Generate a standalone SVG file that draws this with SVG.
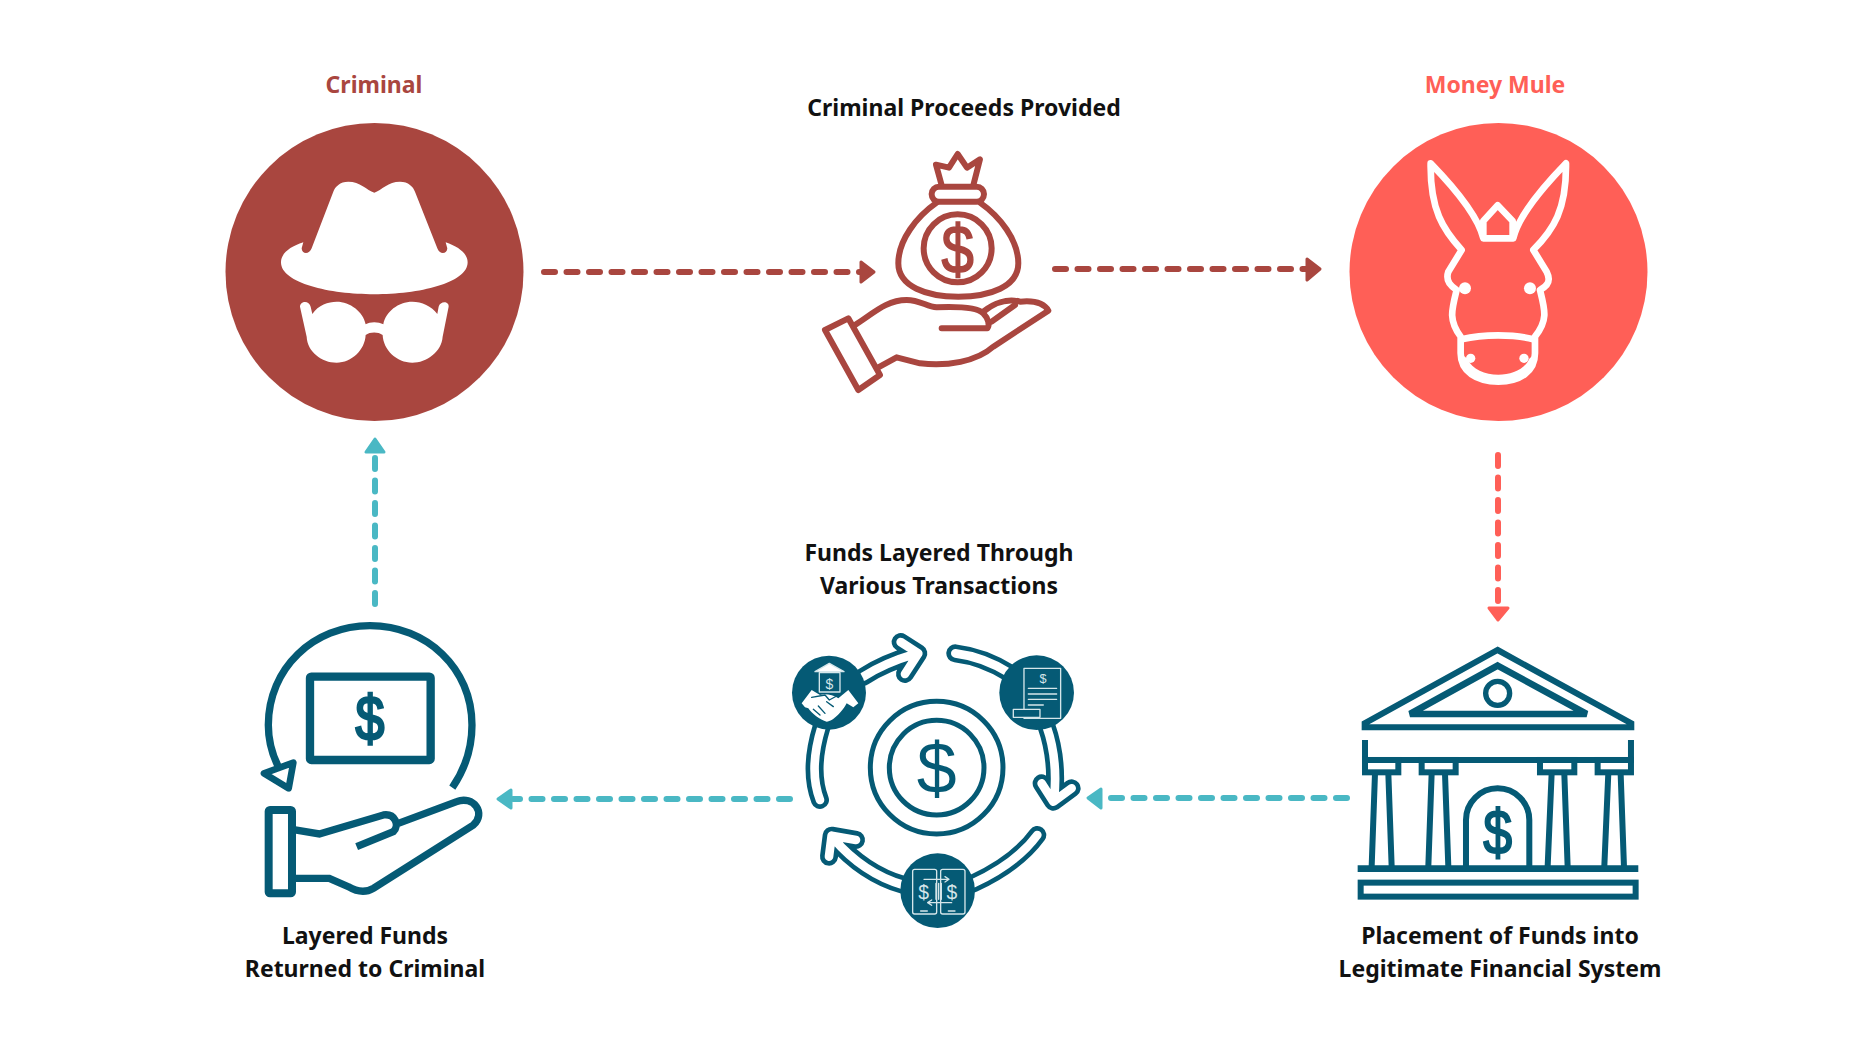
<svg xmlns="http://www.w3.org/2000/svg" width="1855" height="1043" viewBox="0 0 1855 1043">
<style>
.lab{font-family:"Noto Sans","Liberation Sans",sans-serif;font-weight:700;font-size:23px;text-anchor:middle;fill:#111}
.dash{fill:none;stroke-width:6;stroke-dasharray:11 11.500;stroke-linecap:round}
.head{stroke-width:3;stroke-linejoin:round}
.red{stroke:#a9463f;fill:none;stroke-linejoin:round;stroke-linecap:round}
.teal{stroke:#055a75;fill:none}
.d{font-family:"Liberation Sans",sans-serif;text-anchor:middle;stroke:none}
.wh{fill:none;stroke:#fff;stroke-width:20;stroke-linejoin:round;stroke-linecap:round}
.thin{fill:none;stroke:#d5e6ea;stroke-width:4;stroke-linejoin:round;stroke-linecap:round}
.bo{fill:none;stroke:#055a75;stroke-width:54;stroke-linecap:round;stroke-linejoin:round}
.bi{fill:none;stroke:#fff;stroke-width:26;stroke-linecap:round;stroke-linejoin:round}
</style>
<rect width="1855" height="1043" fill="#fff"/>
<g id="connectors">
<path class="dash" stroke="#a9463f" d="M544 272H860"/><path class="head" fill="#a9463f" stroke="#a9463f" d="M861 262L874 272L861 282Z"/>
<path class="dash" stroke="#a9463f" d="M1055 269H1307"/><path class="head" fill="#a9463f" stroke="#a9463f" d="M1307 259L1320 269L1307 280Z"/>
<path class="dash" stroke="#ff5f57" d="M1498 455V608"/><path class="head" fill="#ff5f57" stroke="#ff5f57" d="M1489 608H1508L1498 620Z"/>
<path class="dash" stroke="#4ab8c4" d="M1347 798H1103"/><path class="head" fill="#4ab8c4" stroke="#4ab8c4" d="M1101 789V808L1088 798Z"/>
<path class="dash" stroke="#4ab8c4" d="M790 799H513"/><path class="head" fill="#4ab8c4" stroke="#4ab8c4" d="M511 790V808L498 799Z"/>
<path class="dash" stroke="#4ab8c4" d="M375 604V454"/><path class="head" fill="#4ab8c4" stroke="#4ab8c4" d="M366 452H384L375 439Z"/>
</g>
<g id="criminal">
<text class="lab" x="374" y="93" style="fill:#a9463f">Criminal</text>
<circle cx="374.500" cy="272" r="149" fill="#a9463f"/>
<g transform="translate(200 60) scale(.3333)" fill="#fff">
<path d="M523 398C500 390 480 365 445 365C420 365 405 380 400 395L335 565C328 585 305 583 305 565L310 547C270 560 243 580 243 607C243 670 390 703 523 703C656 703 803 670 803 607C803 580 775 560 737 547L742 565C742 583 718 585 712 565L645 395C640 380 625 365 600 365C565 365 545 390 523 398Z"/>
<path d="M300 740C300 722 328 720 332 740L337 762C355 735 385 725 410 725C450 725 490 755 497 793C510 785 535 785 550 793C557 755 595 725 637 725C665 725 695 738 712 762L716 740C720 722 748 722 746 740L728 830C725 875 680 908 637 908C590 908 550 870 548 825C535 815 510 815 497 825C495 870 455 908 410 908C365 908 322 875 320 830Z"/>
</g>
</g>
<g id="proceeds">
<text class="lab" x="964" y="116">Criminal Proceeds Provided</text>
<g transform="translate(780 80) scale(.3333)">
<g class="red" stroke-width="18">
<path d="M484 312L468 254L507 263L533 222L561 263L600 238L581 312"/>
<rect x="455" y="320" width="157" height="45" rx="22"/>
<path d="M470 368C410 410 355 480 355 550C355 620 440 650 535 650C630 650 715 620 715 550C715 480 660 410 600 368"/>
<circle cx="533" cy="505" r="102"/>
<path d="M135 750L205 715L300 885L235 930Z"/>
<path d="M225 735C280 700 320 660 380 660C420 660 440 680 470 682C520 680 590 680 610 700C625 715 630 735 622 745H485"/>
<path d="M610 695C640 670 680 655 720 665C750 662 790 665 805 692L640 800C590 845 500 860 420 850L350 832L295 862"/>
<path d="M635 725L705 675"/>
</g>
<text class="d" transform="translate(533 580) scale(.85 1)" font-size="205" fill="#a9463f" style="stroke:#a9463f;stroke-width:5">$</text>
</g>
</g>
<g id="money-mule">
<text class="lab" x="1495" y="93" style="fill:#ff5f57">Money Mule</text>
<circle cx="1498.500" cy="272" r="149" fill="#ff5f57"/>
<g transform="translate(1320 60) scale(.3333)">
<path class="wh" d="M425 570C370 510 330 450 332 310C400 380 475 470 490 535H580C595 470 670 380 738 310C740 450 700 510 640 570L680 635C695 665 680 680 660 690C675 750 685 780 645 830V880C645 935 600 965 535 965C470 965 422 935 422 880V830C385 780 395 750 410 690C395 680 375 665 385 635Z"/>
<path class="wh" d="M490 528V483L533 436L578 483V528"/>
<path class="wh" d="M425 838C490 822 580 822 640 838"/>
<path fill="#fff" d="M422 880C422 935 470 970 535 970C600 970 645 935 645 880L628 896C600 960 470 960 442 896Z"/>
<circle cx="435" cy="685" r="18" fill="#fff"/><circle cx="630" cy="685" r="18" fill="#fff"/>
<circle cx="452" cy="895" r="14" fill="#fff"/><circle cx="612" cy="895" r="14" fill="#fff"/>
</g>
</g>
<g id="placement">
<text class="lab" x="1500" y="944">Placement of Funds into</text>
<text class="lab" x="1500" y="977">Legitimate Financial System</text>
<g transform="translate(1330 630) scale(.3333)">
<g class="teal" stroke-width="18">
<path d="M503 60L904 280V292H104V280Z"/>
<path d="M503 107L770 252H240Z" stroke-width="20"/>
<circle cx="503" cy="190" r="36" stroke-width="16"/>
<path d="M105 330V390H903V330"/>
<rect x="105" y="390" width="100" height="37"/><rect x="275" y="390" width="102" height="37"/><rect x="630" y="390" width="103" height="37"/><rect x="803" y="390" width="100" height="37"/>
<path d="M135 430L125 710M175 430L185 710M305 430L295 710M345 430L355 710M665 430L653 710M703 430L713 710M835 430L823 710M872 430L882 710"/>
<path d="M83 716H925" stroke-width="20"/>
<rect x="92" y="758" width="825" height="42"/>
<path d="M408 710V570A95 95 0 0 1 598 570V710"/>
</g>
<text class="d" transform="translate(503 671) scale(.82 1)" font-size="190" fill="#055a75" style="stroke:#055a75;stroke-width:6">$</text>
</g>
</g>
<g id="layered">
<text class="lab" x="939" y="561">Funds Layered Through</text>
<text class="lab" x="939" y="594">Various Transactions</text>
<g transform="translate(770 620) scale(.3333)">
<circle class="teal" cx="500" cy="443" r="199" stroke-width="15"/>
<circle class="teal" cx="500" cy="443" r="142" stroke-width="15"/>
<text class="d" x="500" y="518" font-size="215" fill="#055a75">$</text>
<defs>
<path id="a1" d="M280 170Q340 130 440 100M392 66L445 100L405 162"/>
<path id="a2" d="M556 100Q640 110 720 160"/>
<path id="a3" d="M830 320Q865 420 852 540M815 490L850 545L905 505"/>
<path id="a4" d="M802 645Q740 730 610 790"/>
<path id="a5" d="M400 795Q280 760 190 655M177 710L185 647L258 660"/>
<path id="a6" d="M150 540Q115 450 155 320"/>
</defs>
<use href="#a1" class="bo"/><use href="#a2" class="bo"/><use href="#a3" class="bo"/><use href="#a4" class="bo"/><use href="#a5" class="bo"/><use href="#a6" class="bo"/>
<use href="#a1" class="bi"/><use href="#a2" class="bi"/><use href="#a3" class="bi"/><use href="#a4" class="bi"/><use href="#a5" class="bi"/><use href="#a6" class="bi"/>
<circle cx="177" cy="218" r="111" fill="#055a75"/>
<circle cx="800" cy="218" r="112" fill="#055a75"/>
<circle cx="503" cy="812" r="112" fill="#055a75"/>
<g class="thin">
<path d="M135 155L178 130L222 155Z" fill="#fff"/>
<rect x="148" y="158" width="62" height="58"/>
<path fill="#fff" stroke="none" d="M95 250L125 210L150 225C165 220 190 225 205 235L235 210L265 250L250 262L230 250C220 270 190 305 170 305C150 300 125 280 115 265L105 262Z"/>
<path stroke="#055a75" d="M125 232L165 225L178 240L200 228M130 268L150 285M145 258L165 280M190 260L170 245"/>
<rect x="762" y="145" width="110" height="150"/>
<path d="M775 205H860M775 222H860M775 238H860M775 255H820"/>
<rect x="730" y="268" width="80" height="24" fill="#055a75"/>
<rect x="428" y="748" width="72" height="134" rx="6"/><rect x="512" y="748" width="73" height="134" rx="6"/>
<path d="M462 778H535M525 770L537 778L525 786M545 848H475M485 840L473 848L485 856M506 790V838M498 790V838M514 790V838"/>
<path d="M452 873H472M535 873H555"/>
</g>
<g class="d" fill="#d5e6ea">
<text x="178" y="208" font-size="42">$</text>
<text x="819" y="190" font-size="38">$</text>
<text x="461" y="836" font-size="58">$</text>
<text x="546" y="836" font-size="58">$</text>
</g>
</g>
</g>
<g id="returned">
<text class="lab" x="365" y="944">Layered Funds</text>
<text class="lab" x="365" y="977">Returned to Criminal</text>
<g transform="translate(240 610) scale(.3333)">
<g class="teal" stroke-width="22">
<path d="M637 533C680 470 696 410 696 345C696 175 560 47 390 47C220 47 85 175 85 345C85 390 95 430 115 470"/>
<path d="M72 490L160 458L146 535Z" stroke-width="20" stroke-linejoin="round" fill="#fff"/>
<rect x="210" y="200" width="362" height="250" rx="4" stroke-width="25"/>
<rect x="86" y="600" width="70" height="250" rx="4" stroke-width="24"/>
<path d="M165 660L238 672L430 615C465 610 480 645 460 665L350 710"/>
<path d="M475 640L650 575C700 555 740 610 700 645L400 835C375 850 350 845 325 830L268 805H165"/>
</g>
<text class="d" transform="translate(390 389) scale(.82 1)" font-size="190" fill="#055a75" style="stroke:#055a75;stroke-width:8">$</text>
</g>
</g>
</svg>
